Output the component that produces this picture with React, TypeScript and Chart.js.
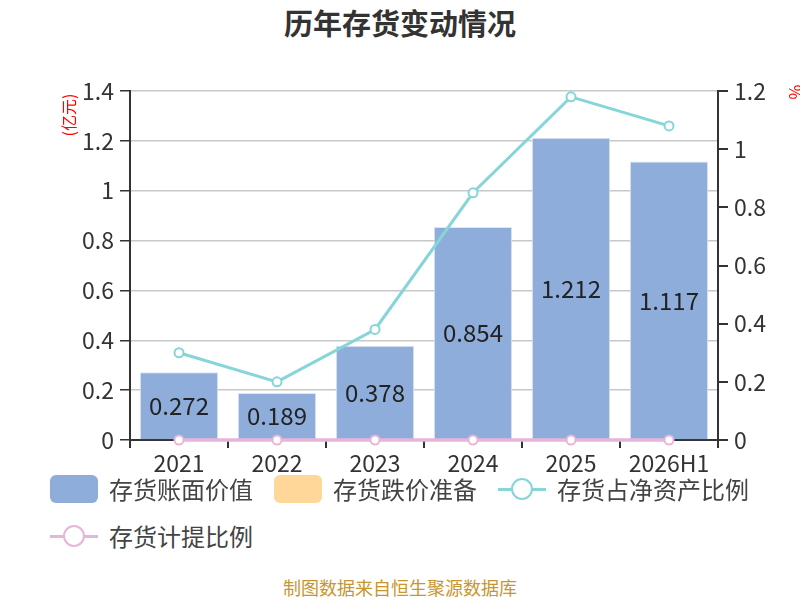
import { useEffect, useRef } from 'react'
import { Chart, registerables } from 'chart.js'

Chart.register(...registerables)

const years = ['2021', '2022', '2023', '2024', '2025', '2026H1']
const bookValue = [0.272, 0.189, 0.378, 0.854, 1.212, 1.117]
const impairment = [0, 0, 0, 0, 0, 0]
const netAssetRatio = [0.3, 0.2, 0.38, 0.85, 1.18, 1.08]
const provisionRatio = [0, 0, 0, 0, 0, 0]

const FONT = '"Noto Sans CJK SC", "Noto Sans", sans-serif'
const BLUE = '#8eaddb'
const ORANGE = '#ffd899'
const TEAL = '#86d5d8'
const PINK = '#e6b5da'

const fmtTick = (v: any) => String(Number(Number(v).toFixed(1)))

const barLabels = {
  id: 'barLabels',
  afterDatasetsDraw(chart: Chart) {
    const { ctx } = chart
    const meta = chart.getDatasetMeta(2)
    ctx.save()
    ctx.font = `24px ${FONT}`
    ctx.fillStyle = '#222'
    ctx.textAlign = 'center'
    ctx.textBaseline = 'middle'
    meta.data.forEach((el: any, i) => {
      ctx.fillText(String(bookValue[i]), el.x, (el.y + el.base) / 2)
    })
    ctx.restore()
  },
}

const axisTitles = {
  id: 'axisTitles',
  afterDraw(chart: Chart) {
    const { ctx } = chart
    ctx.save()
    ctx.font = `16px ${FONT}`
    ctx.fillStyle = '#ff0000'
    ctx.textAlign = 'center'
    ctx.textBaseline = 'middle'
    ctx.translate(69, 115)
    ctx.rotate(-Math.PI / 2)
    ctx.fillText('(亿元)', 0, 0)
    ctx.restore()
    ctx.save()
    ctx.font = `16px ${FONT}`
    ctx.fillStyle = '#ff0000'
    ctx.textAlign = 'center'
    ctx.textBaseline = 'middle'
    ctx.translate(795, 92)
    ctx.rotate(Math.PI / 2)
    ctx.fillText('%', 0, 0)
    ctx.restore()
  },
}

function BoxSymbol({ color }: { color: string }) {
  return <span style={{ display: 'inline-block', width: 48, height: 28, borderRadius: 6, background: color }} />
}

function LineSymbol({ color }: { color: string }) {
  return (
    <span style={{ position: 'relative', display: 'inline-block', width: 48, height: 28 }}>
      <span style={{ position: 'absolute', left: 0, right: 0, top: 13, height: 3, background: color }} />
      <span
        style={{
          position: 'absolute', left: 13, top: 3, width: 18, height: 18, borderRadius: '50%',
          background: '#fff', border: `2px solid ${color}`,
        }}
      />
    </span>
  )
}

function LegendItem({ symbol, text }: { symbol: any; text: string }) {
  return (
    <span style={{ display: 'flex', alignItems: 'center', marginRight: 21 }}>
      {symbol}
      <span style={{ marginLeft: 11, fontSize: 24, color: '#444', lineHeight: '28px' }}>{text}</span>
    </span>
  )
}

export default function App() {
  const canvasRef = useRef<HTMLCanvasElement>(null)

  useEffect(() => {
    if (!canvasRef.current) return
    const tickFont = { family: FONT, size: 23 }
    const chart = new Chart(canvasRef.current, {
      type: 'bar',
      data: {
        labels: years,
        datasets: [
          {
            type: 'line',
            label: '存货占净资产比例',
            data: netAssetRatio,
            yAxisID: 'y2',
            borderColor: TEAL,
            borderWidth: 3,
            pointRadius: 4.5,
            pointBorderWidth: 2,
            pointBackgroundColor: '#fff',
            pointBorderColor: TEAL,
            tension: 0,
            clip: false,
            order: 0,
          },
          {
            type: 'line',
            label: '存货计提比例',
            data: provisionRatio,
            yAxisID: 'y2',
            borderColor: PINK,
            borderWidth: 3.5,
            pointRadius: 4.5,
            pointBorderWidth: 2,
            pointBackgroundColor: '#fff',
            pointBorderColor: PINK,
            tension: 0,
            clip: false,
            order: 1,
          },
          {
            type: 'bar',
            label: '存货账面价值',
            data: bookValue,
            yAxisID: 'y',
            backgroundColor: BLUE,
            borderColor: '#dfe7f4',
            borderWidth: 1,
            grouped: false,
            categoryPercentage: 1,
            barPercentage: 0.8,
            order: 2,
          },
          {
            type: 'bar',
            label: '存货跌价准备',
            data: impairment,
            yAxisID: 'y',
            backgroundColor: ORANGE,
            grouped: false,
            categoryPercentage: 1,
            barPercentage: 0.8,
            order: 3,
          },
        ],
      } as any,
      options: {
        animation: false,
        responsive: false,
        layout: { padding: { top: 91, left: 0, right: 0, bottom: 0 } },
        plugins: { legend: { display: false }, tooltip: { enabled: false } },
        scales: {
          x: {
            offset: true,
            grid: {
              offset: true,
              drawOnChartArea: false,
              drawTicks: true,
              tickLength: 8,
              tickColor: '#333',
              lineWidth: 2,
            },
            border: { color: '#333', width: 2 },
            ticks: { font: tickFont, color: '#333', padding: 1, maxRotation: 0, autoSkip: false },
            afterFit: (s: any) => { s.height = 40 },
          },
          y: {
            position: 'left',
            min: 0,
            max: 1.4,
            ticks: { stepSize: 0.2, font: tickFont, color: '#333', padding: 6, callback: fmtTick },
            grid: { color: '#c8c8c8', lineWidth: 1.5, tickColor: '#333', tickLength: 10 },
            border: { color: '#333', width: 2 },
            afterFit: (s: any) => { s.width = 130 },
          },
          y2: {
            position: 'right',
            min: 0,
            max: 1.2,
            ticks: { stepSize: 0.2, font: tickFont, color: '#333', padding: 6, callback: fmtTick },
            grid: { drawOnChartArea: false, tickColor: '#333', tickLength: 10, lineWidth: 2 },
            border: { color: '#333', width: 2 },
            afterFit: (s: any) => { s.width = 82 },
          },
        },
      },
      plugins: [barLabels, axisTitles],
    })
    return () => { chart.destroy() }
  }, [])

  return (
    <div style={{ position: 'absolute', left: 0, top: 0, width: 800, height: 600, background: '#fff', fontFamily: FONT, overflow: 'hidden' }}>
      <div style={{ position: 'absolute', left: 0, top: 4, width: 800, textAlign: 'center', fontSize: 29, fontWeight: 'bold', color: '#333', lineHeight: '36px' }}>
        历年存货变动情况
      </div>
      <canvas ref={canvasRef} width={800} height={480} style={{ position: 'absolute', left: 0, top: 0, width: 800, height: 480 }} />
      <div style={{ position: 'absolute', left: 50, top: 475, display: 'flex' }}>
        <LegendItem symbol={<BoxSymbol color={BLUE} />} text="存货账面价值" />
        <LegendItem symbol={<BoxSymbol color={ORANGE} />} text="存货跌价准备" />
        <LegendItem symbol={<LineSymbol color={TEAL} />} text="存货占净资产比例" />
      </div>
      <div style={{ position: 'absolute', left: 50, top: 522, display: 'flex' }}>
        <LegendItem symbol={<LineSymbol color={PINK} />} text="存货计提比例" />
      </div>
      <div style={{ position: 'absolute', left: 0, top: 575, width: 800, textAlign: 'center', fontSize: 18, color: '#c8962e', lineHeight: '24px' }}>
        制图数据来自恒生聚源数据库
      </div>
    </div>
  )
}
